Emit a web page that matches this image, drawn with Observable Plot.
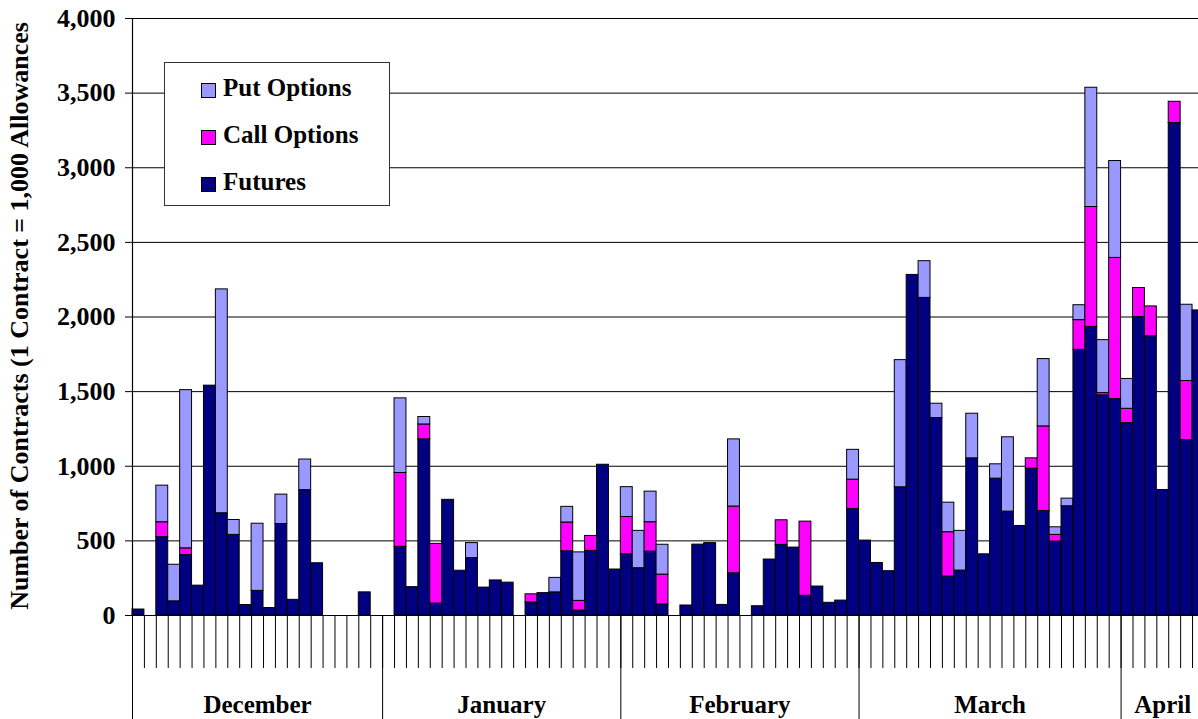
<!DOCTYPE html>
<html><head><meta charset="utf-8">
<script src="https://cdn.jsdelivr.net/npm/d3@7"></script>
<script src="https://cdn.jsdelivr.net/npm/@observablehq/plot@0.6"></script>
<style>
html,body{margin:0;padding:0;background:#fff;overflow:hidden;}
#wrap{position:relative;width:1198px;height:719px;overflow:hidden;}
#legend{position:absolute;left:164px;top:62px;width:224px;height:142px;border:1px solid #333;background:#fff;
  font-family:"Liberation Serif","Times New Roman",serif;font-weight:bold;font-size:25px;color:#000;}
.sw{position:absolute;left:36px;width:13px;height:13px;border:1px solid #000;}
.lt{position:absolute;left:58px;line-height:25px;white-space:nowrap;}
</style></head>
<body><div id="wrap"><div id="chart"></div><div id="legend"></div></div>
<script>
// Months and number of trading-day categories in each (April is cut at the right edge)
const months = ["December", "January", "February", "March", "April"];
const monthDays = [21, 20, 20, 22, 7];

// Futures contracts per day
const futures = [
  40,0,525,95,405,200,1540,685,540,70,165,50,613,105,840,350,0,0,0,155,0,
  0,460,190,1180,80,775,300,385,187,235,220,0,87,150,155,430,33,433,1010,308,
  410,317,428,74,0,67,475,485,71,283,0,62,375,473,455,132,194,85,100,714,
  502,352,297,859,2282,2128,1323,261,301,1053,410,917,696,600,984,700,495,732,1780,1934,1475,1450,
  1289,2000,1871,841,3300,1175,2044
];
// Call options per day
const calls = [
  0,0,100,0,45,0,0,0,0,0,0,0,0,0,0,0,0,0,0,0,0,
  0,495,0,100,400,0,0,0,0,0,0,0,55,0,0,193,65,100,0,0,
  250,0,197,200,0,0,0,0,0,447,0,0,0,165,0,497,0,0,0,196,
  0,0,0,0,0,0,0,297,0,0,0,0,0,0,69,567,45,0,199,803,15,946,
  96,194,200,0,142,396,0
];
// Put options per day
const puts = [
  0,0,245,245,1060,0,0,1500,100,0,450,0,197,0,205,0,0,0,0,0,0,
  0,500,0,50,0,0,0,100,0,0,0,0,0,0,97,105,325,0,0,0,
  200,250,205,200,0,0,0,0,0,450,0,0,0,0,0,0,0,0,0,200,
  0,0,0,852,0,246,96,198,266,299,0,96,498,0,0,451,51,51,100,799,355,649,
  200,0,0,0,0,511,0
];

const seriesNames = ["Futures", "Call Options", "Put Options"];
const seriesColors = ["#000080", "#FF00FF", "#9999FF"];
const yTicks = [0, 500, 1000, 1500, 2000, 2500, 3000, 3500, 4000];
const yLabel = "Number of Contracts (1 Contract = 1,000 Allowances";
const visibleDays = 89.5;

const series = [futures, calls, puts];
const rows = [];
for (let i = 0; i < futures.length; i++) {
  series.forEach((arr, k) => {
    if (arr[i] > 0) rows.push({i, series: seriesNames[k], value: arr[i]});
  });
}
const starts = [];
let acc = 0;
const monthRows = months.map((m, k) => {
  const s = acc; acc += monthDays[k]; starts.push(s);
  return {name: m, mid: (s + acc) / 2};
});
const dayTicks = d3.range(1, acc);

const font = {fontSize: 25, fontWeight: "bold"};

const chart = Plot.plot({
  width: 1198,
  height: 719,
  marginLeft: 132,
  marginRight: 0,
  marginTop: 18,
  marginBottom: 104,
  style: {fontFamily: "'Liberation Serif','Times New Roman',serif", fontSize: "25px", fontWeight: "bold", color: "#000", background: "#fff"},
  x: {domain: [0, visibleDays], axis: null},
  y: {domain: [0, 4000], axis: null},
  color: {domain: seriesNames, range: seriesColors},
  marks: [
    Plot.ruleY(yTicks.slice(1), {stroke: "#000", strokeWidth: 1}),
    Plot.rectY(rows, {x1: "i", x2: d => d.i + 1, y: "value", fill: "series", stroke: "#000", strokeWidth: 1, inset: 0}),
    Plot.ruleY([0], {stroke: "#000", strokeWidth: 1.2}),
    Plot.ruleX([0], {y1: 0, y2: 4000, stroke: "#000", strokeWidth: 1.2}),
    Plot.ruleX(dayTicks, {y1: 0, y2: -355, stroke: "#000", strokeWidth: 1}),
    Plot.ruleX(starts, {y1: 0, y2: -720, stroke: "#000", strokeWidth: 1}),
    Plot.axisY({ticks: yTicks, tickFormat: d3.format(","), tickSize: 7, tickPadding: 10, label: null, stroke: "#000", fill: "#000", fontSize: 26, fontWeight: "bold"}),
    Plot.text(monthRows, {x: "mid", y: -600, text: "name", fill: "#000", lineAnchor: "middle", ...font}),
    Plot.text([yLabel], {frameAnchor: "left", rotate: -90, dx: -113, dy: -1, textAnchor: "middle", fill: "#000", lineAnchor: "middle", fontSize: 26, fontWeight: "bold"})
  ]
});
document.getElementById("chart").appendChild(chart);

// Legend (top-to-bottom: Put, Call, Futures)
const legend = document.getElementById("legend");
const legendOrder = [2, 1, 0];
legendOrder.forEach((k, r) => {
  const sw = document.createElement("div");
  sw.className = "sw";
  sw.style.top = (20 + r * 47) + "px";
  sw.style.background = seriesColors[k];
  legend.appendChild(sw);
  const t = document.createElement("div");
  t.className = "lt";
  t.style.top = (12 + r * 47) + "px";
  t.textContent = seriesNames[k];
  legend.appendChild(t);
});
</script>
</body></html>
